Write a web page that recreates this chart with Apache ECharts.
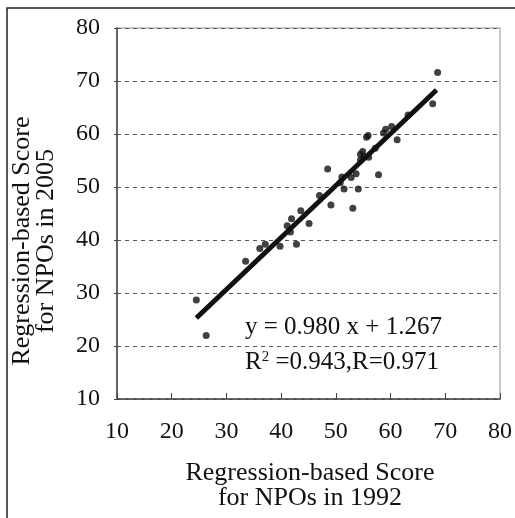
<!DOCTYPE html>
<html><head><meta charset="utf-8">
<script src="https://cdn.jsdelivr.net/npm/echarts@6/dist/echarts.min.js"></script>
<style>html,body{margin:0;padding:0;background:#fff}#c{width:515px;height:518px}</style>
</head><body><div id="c"></div>
<script>
// Scores for NPOs: 1992 (x) vs 2005 (y)
const score1992 = [24.5, 26.3, 33.5, 36.1, 37.1, 39.8, 41.7, 41.1, 41.9, 42.8, 43.6, 45.1, 47.0, 48.5, 49.1,
  50.8, 51.1, 51.5, 52.8, 53.1, 53.7, 54.1, 54.5, 54.5, 54.9, 55.1, 56.0, 55.6, 55.9, 57.2, 57.8,
  58.7, 59.1, 60.2, 61.2, 63.2, 67.7, 68.6];
const score2005 = [28.7, 22.0, 36.0, 38.4, 39.2, 38.8, 41.5, 42.7, 44.0, 39.2, 45.5, 43.1, 48.4, 53.4, 46.6,
  50.8, 51.9, 49.6, 51.8, 46.0, 52.5, 49.6, 55.1, 56.2, 56.7, 55.7, 55.6, 59.4, 59.7, 57.3, 52.3,
  60.2, 60.9, 61.4, 58.9, 63.6, 65.7, 71.6];
const fitSlope = 0.980, fitIntercept = 1.267;
const fitRange = [24.5, 68.4];
const xTicks = [10, 20, 30, 40, 50, 60, 70, 80];
const yTicks = [10, 20, 30, 40, 50, 60, 70, 80];
const eqLines = ['y = 0.980 x + 1.267', 'R{sup|2} =0.943,R=0.971'];

const points = score1992.map((x, i) => [x, score2005[i]]);
const fitLine = fitRange.map(x => [x, fitSlope * x + fitIntercept]);
const FONT = '"Liberation Serif", "Times New Roman", serif';

const chart = echarts.init(document.getElementById('c'), null, {renderer: 'canvas'});
chart.setOption({
  animation: false,
  backgroundColor: '#fff',
  grid: {left: 117, top: 28, right: 13, bottom: 119, show: true, borderColor: '#b8b8b8', borderWidth: 1.5},
  xAxis: {
    type: 'value', min: xTicks[0], max: xTicks[xTicks.length - 1], interval: 10,
    axisLine: {show: true, onZero: false, lineStyle: {color: '#444', width: 1.5}},
    axisTick: {show: true, inside: true, length: 6, lineStyle: {color: '#444', width: 1}},
    axisLabel: {color: '#111', fontFamily: FONT, fontSize: 24, margin: 21},
    splitLine: {show: false}
  },
  yAxis: {
    type: 'value', min: yTicks[0], max: yTicks[yTicks.length - 1], interval: 10,
    axisLine: {show: true, onZero: false, lineStyle: {color: '#444', width: 1.5}},
    axisTick: {show: true, length: 3, lineStyle: {color: '#444', width: 1}},
    axisLabel: {color: '#111', fontFamily: FONT, fontSize: 24, margin: 17},
    splitLine: {show: true, lineStyle: {color: '#555', width: 1, type: [4, 4]}}
  },
  series: [
    {type: 'scatter', data: points, symbol: 'circle', symbolSize: 7, itemStyle: {color: '#111'}, z: 3},
    {type: 'line', data: fitLine, symbol: 'none', lineStyle: {color: '#111', width: 5}, z: 4}
  ],
  graphic: [
    {type: 'rect', shape: {x: 7, y: 8, width: 530, height: 530}, style: {fill: 'none', stroke: '#222', lineWidth: 1.5}, silent: true},
    {type: 'text', x: 245, y: 327, style: {text: eqLines[0], font: '25px ' + FONT, fill: '#111', verticalAlign: 'middle'}},
    {type: 'text', x: 245, y: 362, style: {text: eqLines[1], font: '25px ' + FONT, fill: '#111', verticalAlign: 'middle',
      rich: {sup: {fontSize: 15, verticalAlign: 'top', padding: [0, 0, 10, 0], fontFamily: FONT}}}},
    {type: 'text', x: 310, y: 486, style: {text: 'Regression-based Score\nfor NPOs in 1992', font: '26px ' + FONT, fill: '#111',
      align: 'center', verticalAlign: 'middle', lineHeight: 25}},
    {type: 'text', x: 34, y: 241, rotation: Math.PI / 2, style: {text: 'Regression-based Score\nfor NPOs in 2005', font: '26px ' + FONT, fill: '#111',
      align: 'center', verticalAlign: 'middle', lineHeight: 24}}
  ]
});
</script></body></html>
